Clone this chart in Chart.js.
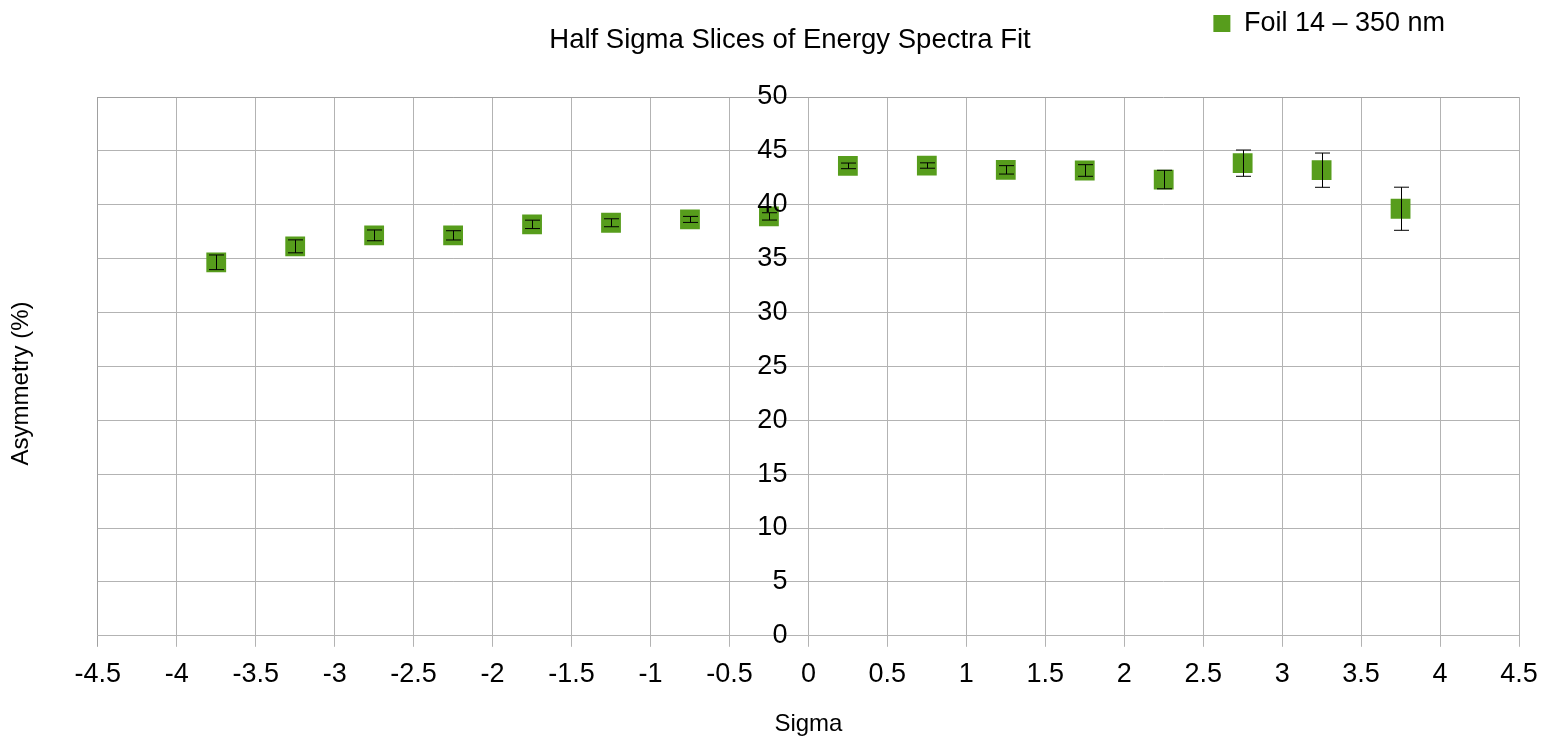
<!DOCTYPE html>
<html>
<head>
<meta charset="utf-8">
<title>Half Sigma Slices of Energy Spectra Fit</title>
<script src="https://cdn.jsdelivr.net/npm/chart.js@4/dist/chart.umd.min.js"></script>
<style>
  html, body { margin:0; padding:0; background:#fff; }
  #wrap { width:1559px; height:740px; position:relative; }
</style>
</head>
<body>
<div id="wrap"><canvas id="chart"></canvas></div>
<script>
'use strict';
// values
const sigma   = [-3.75, -3.25, -2.75, -2.25, -1.75, -1.25, -0.75, -0.25, 0.25, 0.75, 1.25, 1.75, 2.25, 2.75, 3.25, 3.75];
const asym    = [34.66, 36.14, 37.16, 37.16, 38.18, 38.33, 38.64, 38.92, 43.61, 43.64, 43.24, 43.18, 42.34, 43.86, 43.21, 39.63];
const asymErr = [0.68, 0.60, 0.50, 0.43, 0.39, 0.37, 0.28, 0.34, 0.26, 0.25, 0.39, 0.54, 0.86, 1.22, 1.59, 2.00];
const xTicks  = [-4.5, -4, -3.5, -3, -2.5, -2, -1.5, -1, -0.5, 0, 0.5, 1, 1.5, 2, 2.5, 3, 3.5, 4, 4.5];
const yTicks  = [0, 5, 10, 15, 20, 25, 30, 35, 40, 45, 50];
const seriesName = 'Foil 14 – 350 nm';

const GREEN = '#579d1c';
const GRID = '#b3b3b3';

Chart.defaults.font.family = "'Liberation Sans', Arial, sans-serif";
Chart.defaults.color = '#000';

// vertical error bars, drawn through the scales
const errorBars = {
  id: 'errorBars',
  afterDatasetsDraw(chart) {
    const {ctx, scales: {x, y}} = chart;
    ctx.save();
    ctx.strokeStyle = '#000';
    ctx.lineWidth = 1;
    sigma.forEach((s, i) => {
      const px = Math.round(x.getPixelForValue(s)) + 0.5;
      const top = y.getPixelForValue(asym[i] + asymErr[i]);
      const bot = y.getPixelForValue(asym[i] - asymErr[i]);
      ctx.beginPath();
      ctx.moveTo(px, top); ctx.lineTo(px, bot);
      ctx.moveTo(px - 7.5, top); ctx.lineTo(px + 7.5, top);
      ctx.moveTo(px - 7.5, bot); ctx.lineTo(px + 7.5, bot);
      ctx.stroke();
    });
    ctx.restore();
  }
};

// legend in the top right corner beside the title, titles nudged like the original
const placeBoxes = {
  id: 'placeBoxes',
  afterLayout(chart) {
    const lg = chart.legend;
    if (lg) {
      const h = lg.height;
      lg.top = 10; lg.bottom = lg.top + h;
      lg.right = chart.chartArea.right - 74;
    }
    const tb = chart.titleBlock;
    if (tb) { tb.left += 29; tb.right += 29; }
    const yt = chart.scales.yTitle;
    if (yt) yt.top += 34;
  }
};

new Chart(document.getElementById('chart'), {
  type: 'scatter',
  data: {
    datasets: [{
      label: seriesName,
      data: sigma.map((s, i) => ({x: s, y: asym[i]})),
      yAxisID: 'y',
      pointStyle: 'rect',
      pointRadius: 14,
      pointHoverRadius: 14,
      backgroundColor: GREEN,
      borderColor: GREEN,
      borderWidth: 0,
      showLine: false
    }]
  },
  options: {
    responsive: true,
    maintainAspectRatio: false,
    animation: false,
    layout: {padding: {top: 3, left: 3, right: 40, bottom: 0}},
    plugins: {
      title: {display: true, text: 'Half Sigma Slices of Energy Spectra Fit',
        font: {size: 27.5, weight: 'normal'}, color: '#000', padding: {top: 21, bottom: 3}},
      legend: {display: true, position: 'top', align: 'end',
        labels: {font: {size: 27}, color: '#000', boxWidth: 17, boxHeight: 17, padding: 0}},
      tooltip: {enabled: false}
    },
    scales: {
      x: {
        type: 'linear', min: -4.5, max: 4.5,
        afterBuildTicks: s => { s.ticks = xTicks.map(v => ({value: v})); },
        ticks: {font: {size: 27}, color: '#000', padding: 12, autoSkip: false, maxRotation: 0,
          callback: v => String(v)},
        grid: {color: c => c.index === 0 ? '#a0a0a0' : GRID, tickLength: 11},
        border: {color: GRID},
        title: {display: true, text: 'Sigma', font: {size: 24}, padding: {top: 7, bottom: 1}}
      },
      y: {
        // labels sit a little left of the zero line; the x grid draws the zero line itself
        type: 'linear', min: 0, max: 50, position: {x: -0.133},
        afterBuildTicks: s => { s.ticks = yTicks.map(v => ({value: v})); },
        ticks: {font: {size: 27}, color: '#000', padding: 0, z: 1},
        grid: {color: c => c.index === yTicks.length - 1 ? '#a0a0a0' : GRID, drawTicks: false},
        border: {display: false}
      },
      yTitle: {
        type: 'linear', position: 'left', min: 0, max: 50,
        ticks: {display: false},
        grid: {display: false, drawTicks: false},
        border: {display: false},
        title: {display: true, text: 'Asymmetry (%)', font: {size: 24}, padding: {top: 4, bottom: 62}}
      }
    }
  },
  plugins: [errorBars, placeBoxes]
});
</script>
</body>
</html>
